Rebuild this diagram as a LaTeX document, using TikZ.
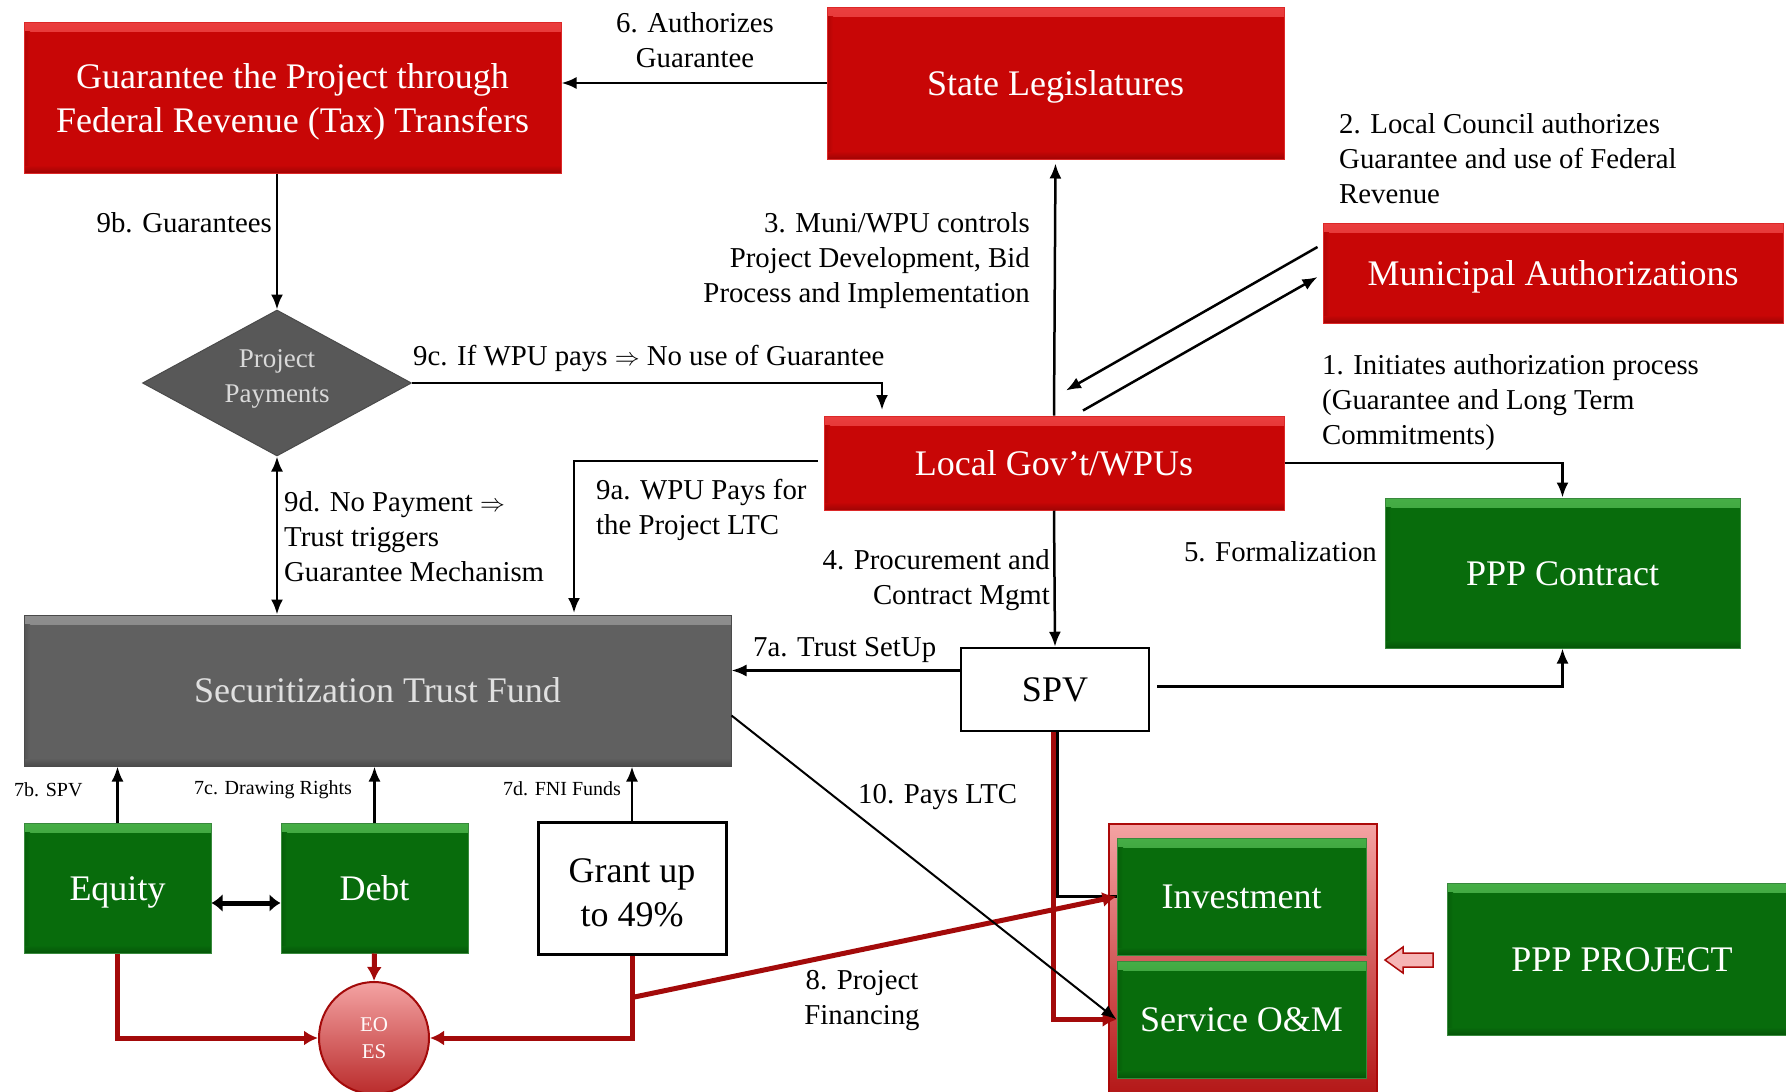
\documentclass[tikz,border=0pt]{standalone}
\usepackage{fontspec}
\setmainfont{Liberation Serif}
\usetikzlibrary{arrows.meta,shapes.geometric,calc}
\newcommand\lowr[2][4pt]{\raisebox{-#1}[\height][\depth]{#2}}
\definecolor{rbase}{HTML}{C80606}
\definecolor{rlight}{HTML}{EA3E3E}
\definecolor{rdark}{HTML}{A00404}
\definecolor{gbase}{HTML}{086C0C}
\definecolor{glight}{HTML}{46AE46}
\definecolor{gdark}{HTML}{055508}
\definecolor{gybase}{HTML}{606060}
\definecolor{gylight}{HTML}{8E8E8E}
\definecolor{gydark}{HTML}{4A4A4A}
\definecolor{conred}{HTML}{A30A0A}
\definecolor{pinktop}{HTML}{F4A3A3}
\definecolor{pinkbot}{HTML}{B21414}
\tikzset{
  bevel/.style n args={3}{fill=#1, path picture={
      \fill[top color=#2, bottom color=#1] (path picture bounding box.north west) rectangle ([yshift=-9pt]path picture bounding box.north east);
      \fill[top color=#1, bottom color=#3] ([yshift=8pt]path picture bounding box.south west) rectangle (path picture bounding box.south east);
      \fill[left color=#3!60!#1, right color=#1] ([yshift=-9pt]path picture bounding box.north west) rectangle ([xshift=6pt,yshift=8pt]path picture bounding box.south west);
  }},
  redbox/.style={rectangle, inner sep=0pt, bevel={rbase}{rlight}{rdark}, draw=rlight!60!rbase, line width=1pt, text=white, font=\fontsize{36}{44}\selectfont, align=center},
  greenbox/.style={rectangle, inner sep=0pt, bevel={gbase}{glight}{gdark}, draw=gbase!80!white, line width=1pt, text=white, font=\fontsize{36}{44}\selectfont, align=center},
  graybox/.style={rectangle, inner sep=0pt, bevel={gybase}{gylight}{gydark}, draw=gydark, line width=1pt, text=white!88!black, font=\fontsize{36}{44}\selectfont, align=center},
  whitebox/.style={rectangle, inner sep=0pt, fill=white, draw=black, line width=2.5pt, text=black, font=\fontsize{36}{44}\selectfont, align=center},
  oneline/.style={text height=24pt, text depth=0pt},
  lbl/.style={inner sep=0pt, font=\fontsize{28.8}{35}\selectfont, text=black},
  smalllbl/.style={inner sep=0pt, font=\fontsize{20}{24}\selectfont, text=black},
  arr/.style={draw=black, line width=2.5pt, -{Latex[length=15pt,width=12pt]}},
  thinarr/.style={draw=black, line width=2pt, -{Latex[length=15pt,width=12pt]}},
  dblarr/.style={draw=black, line width=2.5pt, {Latex[length=15pt,width=12pt]}-{Latex[length=15pt,width=12pt]}},
  fatdbl/.style={draw=black, line width=5pt, {Latex[length=11pt,width=18pt]}-{Latex[length=11pt,width=18pt]}},
  rarr/.style={draw=conred, line width=5pt, -{Latex[length=14pt,width=15pt]}},
}
\begin{document}
\begin{tikzpicture}[x=1pt,y=-1pt]
\useasboundingbox (0,0) rectangle (1786,1092);
\fill[white] (0,0) rectangle (1786,1092);

% main boxes
\node[redbox, minimum width=537, minimum height=151] (guar) at (292.5,97.5) {\lowr{Guarantee the Project through}\\\lowr{Federal Revenue (Tax) Transfers}};
\node[redbox, oneline, minimum width=457, minimum height=152] (state) at (1055.5,83) {State Legislatures};
\node[redbox, oneline, minimum width=460, minimum height=100] (muni) at (1553,273) {Municipal Authorizations};
\node[redbox, oneline, minimum width=460, minimum height=94] (local) at (1054,463) {Local Gov’t/WPUs};
\node[greenbox, oneline, minimum width=355, minimum height=150] (ppp) at (1562.5,573) {PPP Contract};
\node[whitebox, oneline, minimum width=188, minimum height=83] (spv) at (1055,689.5) {SPV};
\node[graybox, oneline, minimum width=707, minimum height=151] (trust) at (377.5,690.5) {Securitization Trust Fund};
\node[diamond, aspect=1.84, minimum width=269, minimum height=146, inner sep=0pt, fill=gybase!105, draw=gydark, line width=1pt, text=white!85!black, font=\fontsize{27}{35}\selectfont, align=center] (dia) at (277,383) {\lowr[-4.5pt]{Project}\\\lowr[-4.5pt]{Payments}};
\node[greenbox, oneline, minimum width=187, minimum height=130] (equity) at (117.5,888) {Equity};
\node[greenbox, oneline, minimum width=187, minimum height=130] (debt) at (374.5,888) {Debt};
\node[whitebox, line width=3pt, minimum width=188, minimum height=132] (grant) at (632,888) {\lowr[5pt]{Grant up}\\\lowr[5pt]{to 49\%}};
\node[ellipse, minimum width=110, minimum height=112, inner sep=0pt, top color=pinktop, bottom color=pinkbot!90!white, draw=conred, line width=2pt, text=white!92!pink, font=\fontsize{21}{27}\selectfont, align=center] (eoes) at (374,1038) {EO\\ES};

% container
\node[rectangle, inner sep=0pt, minimum width=268, minimum height=276, top color=pinktop, bottom color=pinkbot, draw=conred!90!red, line width=2pt] (cont) at (1243,962) {};
\node[greenbox, oneline, minimum width=249, minimum height=117] (inv) at (1241.5,896.5) {Investment};
\node[greenbox, oneline, minimum width=249, minimum height=117] (serv) at (1241.5,1019.5) {Service O\&M};
\node[greenbox, oneline, minimum width=350, minimum height=152] (proj) at (1622,959) {PPP PROJECT};

% hollow block arrow
\filldraw[fill=pinktop!80!white, draw=conred!90!red, line width=1.5pt] (1385,960) -- (1403,947) -- (1403,953) -- (1433,953) -- (1433,967) -- (1403,967) -- (1403,973) -- cycle;

% labels
\node[lbl, align=center] (l6) at (695,40) {6. Authorizes\\Guarantee};
\node[lbl, anchor=east] (l9b) at (272,223) {9b. Guarantees};
\node[lbl, align=right, anchor=east] (l3) at (1030,261) {3. Muni/WPU controls\\Project Development, Bid\\Process and Implementation};
\node[lbl, align=left, anchor=west] (l2) at (1339,159) {2. Local Council authorizes\\Guarantee and use of Federal\\Revenue};
\node[lbl, align=left, anchor=west] (l1) at (1322,403) {1. Initiates authorization process\\(Guarantee and Long Term\\Commitments)};
\node[lbl, anchor=west] (l9c) at (413,358) {9c. If WPU pays $\Rightarrow$ No use of Guarantee};
\node[lbl, align=left, anchor=west] (l9a) at (596,510) {9a. WPU Pays for\\the Project LTC};
\node[lbl, align=left, anchor=west] (l9d) at (284,537) {9d. No Payment $\Rightarrow$\\Trust triggers\\Guarantee Mechanism};
\node[lbl, align=right, anchor=east] (l4) at (1050,580) {4. Procurement and\\Contract Mgmt};
\node[lbl, anchor=east] (l5) at (1377,552) {5. Formalization};
\node[lbl, anchor=west] (l7a) at (753,650) {7a. Trust SetUp};
\node[lbl, anchor=west] (l10) at (858,797) {10. Pays LTC};
\node[lbl, align=center] (l8) at (862,1001) {8. Project\\Financing};
\node[smalllbl, anchor=west] (l7b) at (14,790) {7b. SPV};
\node[smalllbl, anchor=west] (l7c) at (194,790) {7c. Drawing Rights};
\node[smalllbl, anchor=west] (l7d) at (503,789) {7d. FNI Funds};

% black connectors
\draw[arr] (state.west) -- (state.west -| guar.east);
\draw[arr] (guar.south -| dia.north) -- (dia.north);
\coordinate (c9c) at (882,410);
\draw[arr] (dia.east) -| (c9c);
\coordinate (c9a) at (574,613);
\draw[arr] ($(local.west)+(-6,-2)$) -| (c9a);
\draw[dblarr] (trust.north -| dia.south) -- (dia.south);
\draw[arr, shorten >=4pt] (local.north) -- (state.south);
\coordinate (m1) at ($(muni.west)+(-5,-26)$);
\coordinate (g1) at ($(local.north)+(12,-25)$);
\coordinate (g2) at ($(local.north)+(29,-5)$);
\coordinate (m2) at ($(muni.west)+(-5,4)$);
\draw[arr] (m1) -- (g1);
\draw[arr] (g2) -- (m2);
\draw[arr] (local.east) -| (ppp.north);
\draw[arr] (local.south) -- (spv.north);
\coordinate (s7a) at ($(spv.west)+(0,-19)$);
\draw[arr] (s7a) -- (s7a -| trust.east);
\coordinate (s5) at ($(spv.east)+(7,-3)$);
\draw[arr] (s5) -| (ppp.south);
\draw[arr] (equity.north) -- (equity.north |- trust.south);
\draw[arr] (debt.north) -- (debt.north |- trust.south);
\draw[arr] (grant.north) -- (grant.north |- trust.south);
\draw[fatdbl] ($(equity.east)+(0,15)$) -- ($(debt.west)+(0,15)$);

% red connectors
\draw[rarr] (equity.south) |- (eoes.west);
\draw[rarr] (debt.south) -- (eoes.north);
\draw[rarr] (grant.south) |- (eoes.east);
\draw[rarr] ($(spv.south)+(-1.5,0)$) |- (serv.west);
\draw[draw=black, line width=2.5pt] ($(spv.south)+(2.5,0)$) |- (inv.west);
\coordinate (g8) at ($(grant.south)+(0,42)$);
\draw[rarr] (g8) -- (inv.west);

% 10
\coordinate (t10) at ($(trust.east)+(0,25)$);
\draw[thinarr] (t10) -- (serv.west);
\end{tikzpicture}
\end{document}
